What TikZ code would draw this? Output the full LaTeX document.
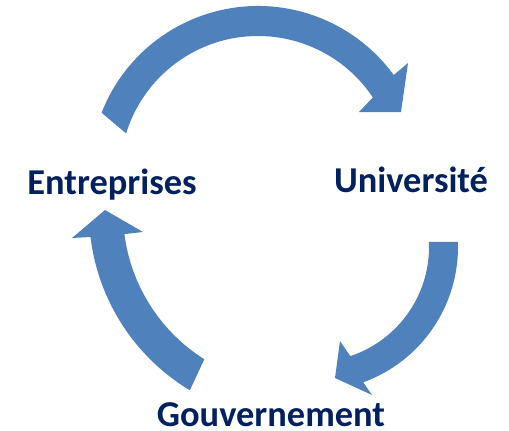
\documentclass[tikz,border=0pt]{standalone}
\usepackage{fontspec}
\setmainfont{Carlito}
\usepackage{tikz}
\definecolor{bleuflec}{HTML}{4F81BD}
\definecolor{bleunuit}{HTML}{002060}
\tikzset{
  fleche/.style={fill=bleuflec,draw=none},
  acteur/.style={text=bleunuit,font=\fontsize{18.2}{22}\selectfont\bfseries,anchor=base,inner sep=0pt}
}
\begin{document}
\begin{tikzpicture}[x=0.5pt,y=0.5pt]
\useasboundingbox (0,0) rectangle (509,430);
% haut : Entreprises -> Universite
\fill[fleche] ([shift={(258,256)}]158.6:168) arc[start angle=158.6,end angle=36.1,radius=168]
  -- (408,367) -- (401,318) -- (359,318)
  -- ([shift={(258,256)}]33.7:138) arc[start angle=33.7,end angle=162.9,radius=138] -- cycle;
% droite : Universite -> Gouvernement
\fill[fleche] ([shift={(314,183)}]2:144) arc[start angle=2,end angle=-70,radius=144]
  -- (372,35) -- (335,52) -- (340,89)
  -- ([shift={(314,183)}]-71.6:115) arc[start angle=-71.6,end angle=2.5,radius=115] -- cycle;
% gauche : Gouvernement -> Entreprises
\fill[fleche] ([shift={(297,218)}]239:208) arc[start angle=239,end angle=186.9,radius=208]
  -- (72,192) -- (105,220) -- (143,198)
  -- ([shift={(297,218)}]187.3:174) arc[start angle=187.3,end angle=237.8,radius=174] -- cycle;
\node[acteur] (entr) at (112,236) {Entreprises};
\node[acteur] (univ) at (411,238) {Université};
\node[acteur] (gouv) at (271,4) {Gouvernement};
\end{tikzpicture}
\end{document}
